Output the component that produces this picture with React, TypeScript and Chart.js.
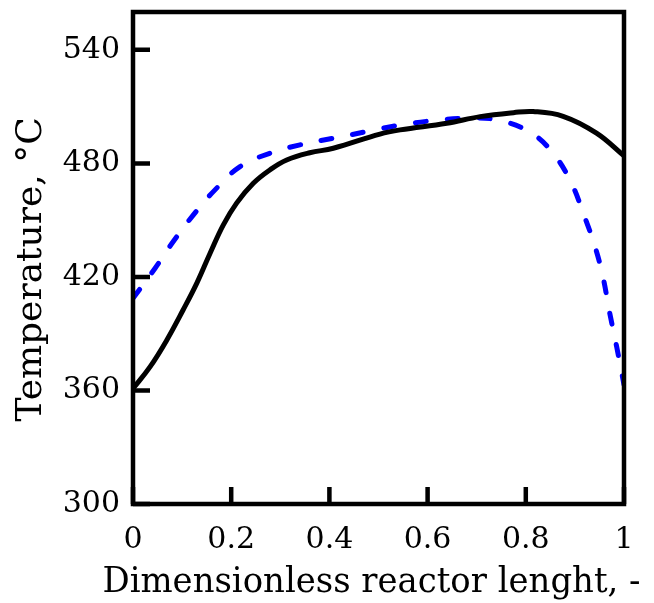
import React, { useEffect, useRef } from "react";
import { Chart, registerables } from "chart.js";

Chart.register(...registerables);

// Solid black curve
const solidX = [0, 0.035, 0.069, 0.102, 0.13, 0.157, 0.184, 0.211, 0.245, 0.279, 0.313, 0.36, 0.408, 0.503, 0.544, 0.639, 0.707, 0.775, 0.815, 0.876, 0.944, 1.0];
const solidT = [361, 372.6, 386.7, 402.5, 416.7, 432.5, 447.5, 459, 469.5, 476.6, 481.8, 485.6, 488, 495.5, 497.7, 501.2, 504.7, 506.8, 507.4, 504.9, 496, 484];

// Dashed blue curve
const dashX = [0, 0.045, 0.082, 0.123, 0.167, 0.218, 0.279, 0.34, 0.408, 0.476, 0.544, 0.612, 0.68, 0.741, 0.809, 0.856, 0.893, 0.917, 0.941, 0.957, 0.971, 0.985, 1.0];
const dashT = [408.7, 424.6, 438.7, 452.8, 466, 478.3, 485.4, 489.8, 493.3, 496.8, 500.3, 502.6, 503.9, 503, 496.4, 485.2, 469.5, 453.7, 436, 420.2, 400.8, 383.2, 363];

const xTicks = [0, 0.2, 0.4, 0.6, 0.8, 1];
const xTickLabels = ["0", "0.2", "0.4", "0.6", "0.8", "1"];
const yTicks = [300, 360, 420, 480, 540];
const yTickLabels = ["300", "360", "420", "480", "540"];

const xTitle = "Dimensionless reactor lenght, -";
const yTitle = "Temperature, °C  ";

const FONT = "'DejaVu Serif', serif";

const frame = {
  id: "frame",
  afterDatasetsDraw(chart: any) {
    const { ctx, chartArea: a, scales } = chart;
    ctx.save();
    ctx.strokeStyle = "#000";
    ctx.lineWidth = 4.5;
    ctx.lineCap = "butt";
    const tl = 17;
    ctx.beginPath();
    for (const v of xTicks) {
      const px = scales.x.getPixelForValue(v);
      ctx.moveTo(px, a.bottom);
      ctx.lineTo(px, a.bottom - tl);
    }
    for (const v of yTicks) {
      const py = scales.y.getPixelForValue(v);
      ctx.moveTo(a.left, py);
      ctx.lineTo(a.left + tl, py);
    }
    ctx.stroke();
    ctx.lineJoin = "miter";
    ctx.strokeRect(a.left, a.top, a.right - a.left, a.bottom - a.top);
    ctx.restore();
  },
  afterDraw(chart: any) {
    const { ctx, chartArea: a } = chart;
    ctx.save();
    ctx.fillStyle = "#000";
    ctx.font = `36px ${FONT}`;
    ctx.textAlign = "center";
    ctx.textBaseline = "alphabetic";
    ctx.fillText(xTitle, (a.left + a.right) / 2 - 7, 592, 538);
    ctx.restore();
  },
};

export default function App() {
  const ref = useRef<HTMLCanvasElement>(null);
  useEffect(() => {
    const chart = new Chart(ref.current!, {
      type: "line",
      data: {
        datasets: [
          {
            data: solidX.map((x, i) => ({ x, y: solidT[i] })),
            borderColor: "#000000",
            borderWidth: 5,
            pointRadius: 0,
            tension: 0.4,
            fill: false,
          },
          {
            data: dashX.map((x, i) => ({ x, y: dashT[i] })),
            borderColor: "#0000ff",
            borderWidth: 5,
            borderDash: [11, 21],
            borderCapStyle: "round",
            pointRadius: 0,
            tension: 0.4,
            fill: false,
          },
        ],
      },
      options: {
        animation: false,
        responsive: false,
        maintainAspectRatio: false,
        layout: { padding: { top: 12, right: 30, left: 0, bottom: 0 } },
        plugins: { legend: { display: false }, tooltip: { enabled: false } },
        scales: {
          x: {
            type: "linear",
            min: 0,
            max: 1,
            afterBuildTicks: (s: any) => {
              s.ticks = xTicks.map((v) => ({ value: v }));
            },
            afterFit: (s: any) => {
              s.height = 99;
              s.paddingLeft = 0;
              s.paddingRight = 0;
            },
            grid: { display: false, drawTicks: false },
            border: { display: false },
            ticks: {
              color: "#000",
              font: { family: FONT, size: 30 },
              padding: 18,
              maxRotation: 0,
              autoSkip: false,
              callback: (v: any) => {
                const i = xTicks.indexOf(Number(v));
                return i >= 0 ? xTickLabels[i] : "";
              },
            },
            title: { display: false },
          },
          y: {
            type: "linear",
            min: 300,
            max: 560,
            afterBuildTicks: (s: any) => {
              s.ticks = yTicks.map((v) => ({ value: v }));
            },
            afterFit: (s: any) => {
              s.width = 133;
              s.paddingTop = 0;
              s.paddingBottom = 0;
            },
            grid: { display: false, drawTicks: false },
            border: { display: false },
            ticks: {
              color: "#000",
              font: { family: FONT, size: 30 },
              padding: 13,
              autoSkip: false,
              callback: (v: any) => {
                const i = yTicks.indexOf(Number(v));
                return i >= 0 ? yTickLabels[i] : "";
              },
            },
            title: {
              display: true,
              text: yTitle,
              color: "#000",
              font: { family: FONT, size: 36 },
              padding: { top: 10, bottom: 0 },
            },
          },
        },
      },
      plugins: [frame],
    } as any);
    return () => chart.destroy();
  }, []);
  return (
    <div style={{ position: "fixed", left: 0, top: 0, width: 654, height: 603, background: "#fff" }}>
      <canvas ref={ref} width={654} height={603} style={{ width: 654, height: 603 }} />
    </div>
  );
}
